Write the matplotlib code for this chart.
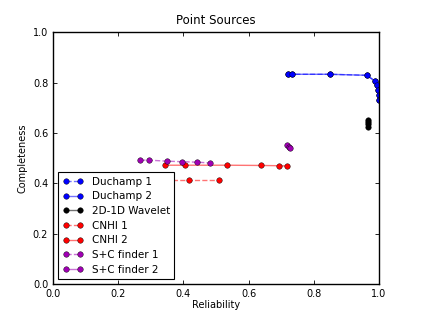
import matplotlib
matplotlib.use("Agg")
import matplotlib.pyplot as plt

# reliability (x) / completeness (y)
duchamp1_x = [0.721, 0.733, 0.850, 0.963, 0.988, 0.994, 0.997, 1.0, 1.0]
duchamp1_y = [0.833, 0.833, 0.833, 0.829, 0.806, 0.790, 0.770, 0.750, 0.730]
duchamp2_x = [0.721, 0.733, 0.850, 0.963, 0.988, 0.994, 0.997, 1.0, 1.0]
duchamp2_y = [0.833, 0.833, 0.833, 0.829, 0.806, 0.790, 0.770, 0.750, 0.730]
wavelet_x = [0.966, 0.967, 0.966, 0.967]
wavelet_y = [0.650, 0.642, 0.634, 0.625]
cnhi1_x = [0.344, 0.418, 0.508]
cnhi1_y = [0.413, 0.413, 0.413]
cnhi2_x = [0.344, 0.405, 0.534, 0.638, 0.693, 0.718]
cnhi2_y = [0.472, 0.472, 0.472, 0.471, 0.470, 0.469]
sc1_x = [0.268, 0.295, 0.350, 0.396, 0.442, 0.482]
sc1_y = [0.492, 0.492, 0.488, 0.486, 0.484, 0.481]
sc2_x = [0.718, 0.724, 0.728]
sc2_y = [0.552, 0.546, 0.540]

series = [
    ("Duchamp 1", duchamp1_x, duchamp1_y, "#0000ff", "--"),
    ("Duchamp 2", duchamp2_x, duchamp2_y, "#0000ff", "-"),
    ("2D-1D Wavelet", wavelet_x, wavelet_y, "#000000", "-"),
    ("CNHI 1", cnhi1_x, cnhi1_y, "#ff0000", "--"),
    ("CNHI 2", cnhi2_x, cnhi2_y, "#ff0000", "-"),
    ("S+C finder 1", sc1_x, sc1_y, "#a000b4", "--"),
    ("S+C finder 2", sc2_x, sc2_y, "#a000b4", "-"),
]

fig = plt.figure(figsize=(4.21, 3.16), dpi=100, facecolor="white")
ax = fig.add_axes([0.126, 0.101, 0.774, 0.797])

for label, x, y, c, ls in series:
    # faded connecting line, solid markers
    ax.plot(x, y, linestyle=ls, color=matplotlib.colors.to_rgba(c, 0.55),
            linewidth=1.0, marker="o", markersize=4, markerfacecolor=c,
            markeredgecolor="k", markeredgewidth=0.3, label=label)

ax.set_xlim(0, 1)
ax.set_ylim(0, 1)
ax.set_xticks([0.0, 0.2, 0.4, 0.6, 0.8, 1.0])
ax.set_yticks([0.0, 0.2, 0.4, 0.6, 0.8, 1.0])
ax.tick_params(direction="in", top=True, right=True, labelsize=7, length=3, width=0.6)
for s in ax.spines.values():
    s.set_linewidth(1.0)

ax.set_title("Point Sources", fontsize=8.5)
ax.set_xlabel("Reliability", fontsize=7, labelpad=1)
ax.set_ylabel("Completeness", fontsize=7, labelpad=4)

leg = ax.legend(loc="lower left", fontsize=7.5, numpoints=2, handlelength=2.0,
                fancybox=False, framealpha=1, borderaxespad=0.5,
                labelspacing=0.45, borderpad=0.4, handletextpad=0.8)
leg.get_frame().set_edgecolor("k")
leg.get_frame().set_linewidth(0.8)

fig.savefig("out.png", dpi=100, facecolor="white")
